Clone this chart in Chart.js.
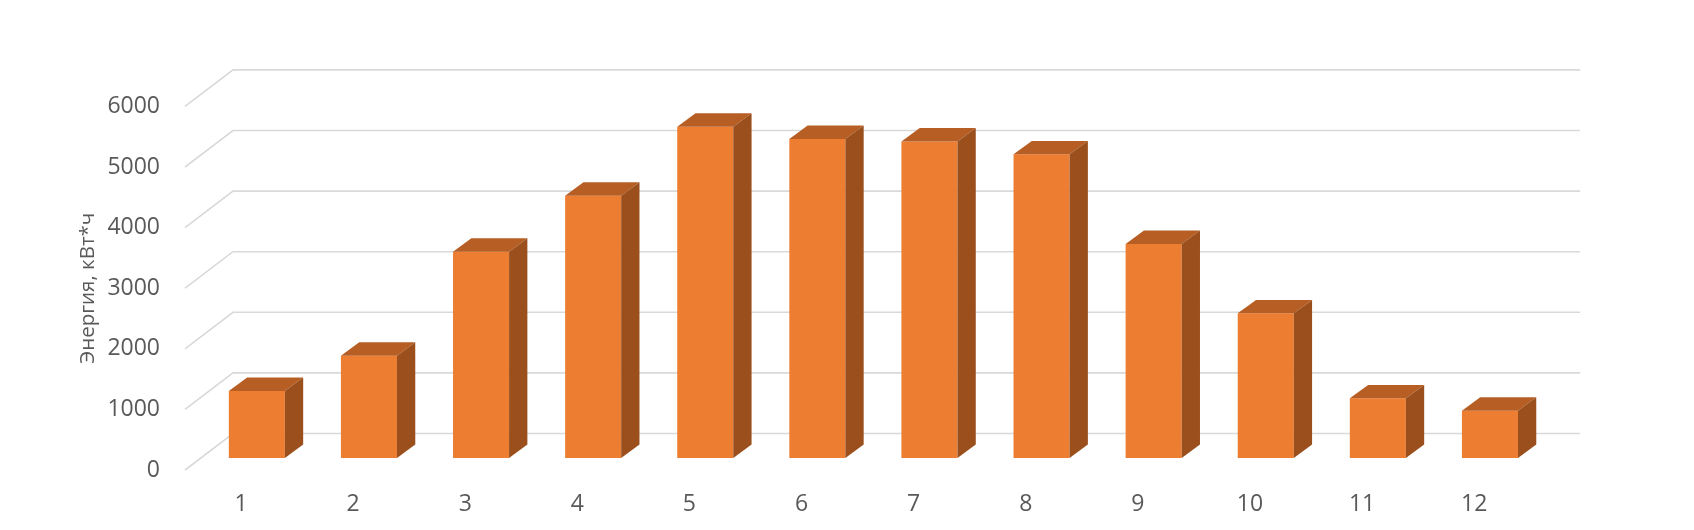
<!DOCTYPE html>
<html>
<head>
<meta charset="utf-8">
<script src="https://cdn.jsdelivr.net/npm/chart.js@4"></script>
<style>
  body { margin: 0; background: #fff; }
  #wrap { width: 1694px; height: 530px; }
</style>
</head>
<body>
<div id="wrap"><canvas id="chart" width="1694" height="530"></canvas></div>
<script>
// data
const months = ['1', '2', '3', '4', '5', '6', '7', '8', '9', '10', '11', '12'];
const energy = [1106, 1688, 3404, 4328, 5467, 5264, 5223, 5011, 3531, 2388, 985, 781];
const yAxisTitle = 'Энергия, кВт*ч';
const yMin = 0;
const yMax = 6000;
const yStep = 1000;

const FONT = '"Open Sans", "Noto Sans", sans-serif';
const TEXT = '#595959';
const GRID = '#d9d9d9';
const FRONT = '#ed7d31';
const TOP = '#b65e24';
const SIDE = '#9a4f1d';

// fake 3D: floor depth, bar plane shift, bar depth
const FLOOR = { dx: 48, dy: -36.5 };
const SHIFT = { dx: 15.8, dy: -12 };
const BAR = { dx: 18.3, dy: -13.4 };

const fake3d = {
  id: 'fake3d',
  beforeDatasetsDraw(chart) {
    const { ctx, chartArea, scales } = chart;
    const y = scales.y;
    ctx.save();
    ctx.strokeStyle = GRID;
    ctx.lineWidth = 1.6;
    y.ticks.forEach(t => {
      const py = y.getPixelForValue(t.value);
      ctx.beginPath();
      ctx.moveTo(chartArea.left, py);
      ctx.lineTo(chartArea.left + FLOOR.dx, py + FLOOR.dy);
      ctx.lineTo(chartArea.right + FLOOR.dx + 2, py + FLOOR.dy);
      ctx.stroke();
    });
    ctx.restore();
    // bars sit a bit behind the front edge of the floor
    ctx.save();
    ctx.translate(SHIFT.dx, SHIFT.dy);
  },
  afterDatasetsDraw(chart) {
    const { ctx } = chart;
    chart.getDatasetMeta(0).data.forEach(bar => {
      const { x, y, base, width } = bar.getProps(['x', 'y', 'base', 'width'], true);
      const l = x - width / 2, r = x + width / 2;
      ctx.fillStyle = TOP;
      ctx.beginPath();
      ctx.moveTo(l, y);
      ctx.lineTo(l + BAR.dx, y + BAR.dy);
      ctx.lineTo(r + BAR.dx, y + BAR.dy);
      ctx.lineTo(r, y);
      ctx.closePath();
      ctx.fill();
      ctx.fillStyle = SIDE;
      ctx.beginPath();
      ctx.moveTo(r, y);
      ctx.lineTo(r + BAR.dx, y + BAR.dy);
      ctx.lineTo(r + BAR.dx, base + BAR.dy);
      ctx.lineTo(r, base);
      ctx.closePath();
      ctx.fill();
    });
    ctx.restore();
  }
};

new Chart(document.getElementById('chart'), {
  type: 'bar',
  data: {
    labels: months,
    datasets: [{
      data: energy,
      backgroundColor: FRONT,
      borderWidth: 0,
      barPercentage: 0.5,
      categoryPercentage: 1.0,
      clip: false
    }]
  },
  options: {
    responsive: false,
    animation: false,
    events: [],
    layout: { padding: { top: 106.4, right: 163.8, left: 0, bottom: 0 } },
    plugins: { legend: { display: false }, tooltip: { enabled: false } },
    scales: {
      x: {
        offset: true,
        grid: { display: false, drawTicks: false },
        border: { display: false },
        ticks: { color: TEXT, font: { family: FONT, size: 23 }, padding: 21 },
        afterFit: s => { s.height = 60; }
      },
      y: {
        min: yMin,
        max: yMax,
        grid: { display: false, drawTicks: false },
        border: { display: false },
        ticks: {
          stepSize: yStep,
          color: TEXT,
          font: { family: FONT, size: 23 },
          padding: 25,
          callback: v => String(v)
        },
        title: {
          display: true,
          text: yAxisTitle,
          color: TEXT,
          font: { family: FONT, size: 20.5 },
          padding: { top: 76, bottom: 0 }
        },
        afterFit: s => { s.width = 185; }
      }
    }
  },
  plugins: [fake3d]
});
</script>
</body>
</html>
